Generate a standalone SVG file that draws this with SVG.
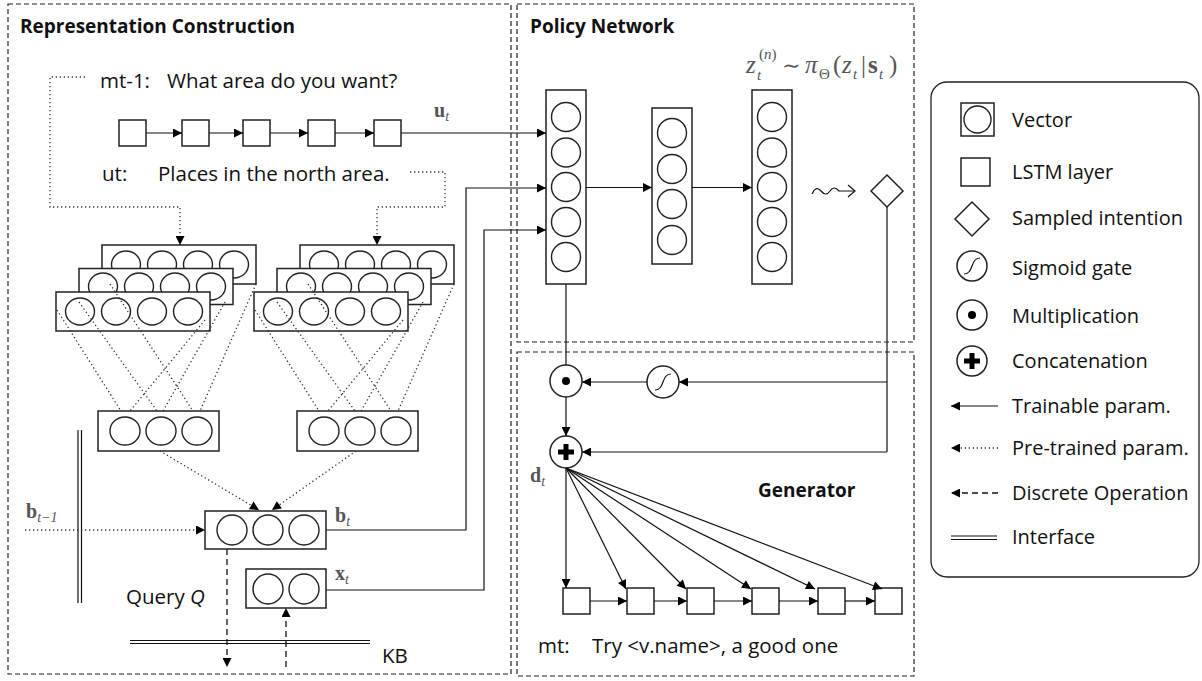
<svg xmlns="http://www.w3.org/2000/svg" width="1202" height="681" viewBox="0 0 1202 681">
<style>
.panel{fill:none;stroke:#222;stroke-width:1.2;stroke-dasharray:5 3}
.box{fill:#fff;stroke:#222;stroke-width:1.5}
.cir{fill:none;stroke:#222;stroke-width:1.4}
.ln{fill:none;stroke:#111;stroke-width:1.2}
.dot{fill:none;stroke:#333;stroke-width:1.3;stroke-dasharray:1.3 2.7}
.dash{fill:none;stroke:#111;stroke-width:1.3;stroke-dasharray:6 4}
.t{font-family:"Open Sans","Liberation Sans",sans-serif;font-size:20.5px;fill:#111}
.lg{font-family:"Open Sans","Liberation Sans",sans-serif;font-size:20px;fill:#111}
.tb{font-family:"Open Sans","Liberation Sans",sans-serif;font-size:19px;font-weight:700;fill:#111}
.m{font-family:"Liberation Serif","DejaVu Serif",serif;fill:#555}
</style>
<defs>
<marker id="ah" viewBox="0 0 10 10" refX="10" refY="5" markerWidth="11" markerHeight="9" markerUnits="userSpaceOnUse" orient="auto"><path d="M0,0 L10,5 L0,10 z" fill="#000"/></marker>
<g id="c4"><ellipse cx="24" cy="19.5" rx="14.5" ry="13.5" class="cir"/><ellipse cx="60" cy="19.5" rx="14.5" ry="13.5" class="cir"/><ellipse cx="96" cy="19.5" rx="14.5" ry="13.5" class="cir"/><ellipse cx="132" cy="19.5" rx="14.5" ry="13.5" class="cir"/></g>
<g id="stack"><rect x="46" y="0" width="154" height="39" class="box"/><use href="#c4" x="46" y="0"/><rect x="23" y="23.5" width="154" height="36" class="box"/><use href="#c4" x="23" y="22"/><rect x="0" y="47" width="154" height="39" class="box"/><use href="#c4" x="0" y="47"/></g>
<g id="c3"><rect x="0" y="0" width="121" height="40" class="box"/><ellipse cx="27" cy="20" rx="15" ry="14" class="cir"/><ellipse cx="63" cy="20" rx="15" ry="14" class="cir"/><ellipse cx="99" cy="20" rx="15" ry="14" class="cir"/></g>
<g id="sq"><rect x="0" y="0" width="27" height="26" class="box"/></g>
</defs>

<g id="panels">
<rect x="8" y="4" width="503" height="670" class="panel"/>
<rect x="517" y="4" width="397" height="338" class="panel"/>
<rect x="517" y="352" width="397" height="324" class="panel"/>
<text x="20" y="33" class="tb">Representation Construction</text>
<text x="530" y="33" class="tb">Policy Network</text>
<text x="758" y="497" class="tb">Generator</text>
</g>

<g id="utterance-prev">
<text x="100" y="88" class="t">mt-1:</text>
<text x="167" y="88" class="t">What area do you want?</text>
</g>
<g id="utterance-cur">
<text x="102" y="181" class="t">ut:</text>
<text x="158" y="181" class="t">Places in the north area.</text>
</g>

<g id="lstm-top">
<use href="#sq" x="119" y="120"/><use href="#sq" x="182" y="120"/><use href="#sq" x="243" y="120"/><use href="#sq" x="308" y="120"/><use href="#sq" x="374" y="120"/>
</g>
<text x="434" y="117" class="m" font-size="20" font-weight="700" fill="#444">u<tspan font-size="14" dy="4" font-style="italic" font-weight="400">t</tspan></text>

<g id="cnn-left"><use href="#stack" x="56" y="245"/></g>
<g id="cnn-right"><use href="#stack" x="254" y="245"/></g>
<g id="pool-left"><use href="#c3" x="98" y="411"/></g>
<g id="pool-right"><use href="#c3" x="297" y="411"/></g>

<g id="belief">
<rect x="205" y="511" width="121" height="38" class="box"/>
<ellipse cx="232" cy="530" rx="15" ry="15" class="cir"/><ellipse cx="268" cy="530" rx="15" ry="15" class="cir"/><ellipse cx="304" cy="530" rx="15" ry="15" class="cir"/>
<text x="335" y="522" class="m" font-size="20" font-weight="700">b<tspan font-size="14" dy="4" font-style="italic" font-weight="400">t</tspan></text>
</g>
<g id="kbvec">
<rect x="246" y="569" width="80" height="39" class="box"/>
<ellipse cx="268" cy="589" rx="15" ry="15" class="cir"/><ellipse cx="304" cy="589" rx="15" ry="15" class="cir"/>
<text x="335" y="580" class="m" font-size="20" font-weight="700">x<tspan font-size="14" dy="4" font-style="italic" font-weight="400">t</tspan></text>
</g>
<text x="26" y="518" class="m" font-size="20" font-weight="700">b<tspan font-size="14" dy="4" font-style="italic" font-weight="400">t−1</tspan></text>
<g id="query"><text x="126" y="604" class="t">Query <tspan font-style="italic">Q</tspan></text></g>
<g id="kb"><path d="M130,640.5 H370 M130,643.5 H370" class="ln"/><text x="382" y="663" class="t">KB</text></g>
<g id="interface"><path d="M78,430 V603 M81.5,430 V603" class="ln"/></g>

<g id="policy-v1"><rect x="546" y="90" width="40" height="194" class="box"/>
<circle cx="566" cy="117" r="14.5" class="cir"/><circle cx="566" cy="152.5" r="14.5" class="cir"/><circle cx="566" cy="187" r="14.5" class="cir"/><circle cx="566" cy="222" r="14.5" class="cir"/><circle cx="566" cy="257" r="14.5" class="cir"/></g>
<g id="policy-v2"><rect x="652" y="108" width="40" height="156" class="box"/>
<circle cx="672" cy="133" r="14.5" class="cir"/><circle cx="672" cy="169" r="14.5" class="cir"/><circle cx="672" cy="204" r="14.5" class="cir"/><circle cx="672" cy="240" r="14.5" class="cir"/></g>
<g id="policy-v3"><rect x="752" y="90" width="40" height="194" class="box"/>
<circle cx="772" cy="117" r="14.5" class="cir"/><circle cx="772" cy="152.5" r="14.5" class="cir"/><circle cx="772" cy="187" r="14.5" class="cir"/><circle cx="772" cy="222" r="14.5" class="cir"/><circle cx="772" cy="257" r="14.5" class="cir"/></g>
<g id="formula" class="m" fill="#666" font-style="italic">
<text x="746" y="73" font-size="25">z</text>
<text x="759" y="59" font-size="15" font-style="normal">(<tspan font-style="italic">n</tspan>)</text>
<text x="757" y="80" font-size="15">t</text>
<text x="782" y="73" font-size="22" font-style="normal">∼</text>
<text x="805" y="73" font-size="25">π</text>
<text x="819" y="79" font-size="15" font-style="normal">Θ</text>
<text x="833" y="73" font-size="25" font-style="normal">(</text>
<text x="842" y="73" font-size="25">z</text>
<text x="853" y="79" font-size="15">t</text>
<text x="861" y="73" font-size="25" font-style="normal">|</text>
<text x="868" y="73" font-size="25" font-style="normal" font-weight="700">s</text>
<text x="879" y="79" font-size="15">t</text>
<text x="889" y="73" font-size="25" font-style="normal">)</text>
</g>
<g id="sample"><path d="M812,194 Q816,185 821,191 T830,191 T839,191 L854,191" class="ln" stroke-width="2"/><path d="M848,185 L855,191 L848,197" class="ln" stroke-width="1.8"/></g>
<g id="intention"><path d="M887,175 L903,191 L887,207 L871,191 Z" class="box"/></g>

<g id="mult"><circle cx="566" cy="381" r="16" class="box"/><circle cx="566" cy="381" r="4" fill="#000"/></g>
<g id="sigmoid"><circle cx="663" cy="382" r="16" class="box"/><path d="M655,390 C665,390 661,374 671,374" class="ln"/></g>
<g id="concat"><circle cx="566" cy="452" r="16" class="box"/><path d="M566,444 V460 M558,452 H574" stroke="#000" stroke-width="5"/></g>
<text x="530" y="482" class="m" font-size="20" font-weight="700">d<tspan font-size="14" dy="4" font-style="italic" font-weight="400">t</tspan></text>

<g id="lstm-gen">
<use href="#sq" x="563" y="588"/><use href="#sq" x="627" y="588"/><use href="#sq" x="687" y="588"/><use href="#sq" x="752" y="588"/><use href="#sq" x="818" y="588"/><use href="#sq" x="875" y="588"/>
</g>
<g id="response"><text x="538" y="653" class="t">mt:</text><text x="592" y="653" class="t">Try &lt;v.name&gt;, a good one</text></g>

<g id="connectors">
<path d="M146,133 H182" class="ln" marker-end="url(#ah)"/>
<path d="M209,133 H243" class="ln" marker-end="url(#ah)"/>
<path d="M270,133 H308" class="ln" marker-end="url(#ah)"/>
<path d="M335,133 H374" class="ln" marker-end="url(#ah)"/>
<path d="M401,133 H546" class="ln" marker-end="url(#ah)"/>
<path d="M85,77 H50 V207 H180 V245" class="dot" marker-end="url(#ah)"/>
<path d="M410,172 H445 V207 H377 V245" class="dot" marker-end="url(#ah)"/>
<path d="M57,310 L121,411 M79,302 L157,411 M110,284 L193,411 M205,320 L130,411 M225,302 L163,411 M256,284 L200,411" class="dot"/>
<path d="M255,310 L319,411 M277,302 L355,411 M308,284 L391,411 M403,320 L328,411 M423,302 L361,411 M454,284 L398,411" class="dot"/>
<path d="M160,451 L259,510" class="dot" marker-end="url(#ah)"/>
<path d="M356,451 L272,510" class="dot" marker-end="url(#ah)"/>
<path d="M25,530 H205" class="dot" marker-end="url(#ah)"/>
<path d="M326,530 H466 V188 H546" class="ln" marker-end="url(#ah)"/>
<path d="M326,590 H484 V230 H546" class="ln" marker-end="url(#ah)"/>
<path d="M227,549 V667" class="dash" marker-end="url(#ah)"/>
<path d="M286,667 V608" class="dash" marker-end="url(#ah)"/>
<path d="M586,187.5 H652" class="ln" marker-end="url(#ah)"/>
<path d="M692,187.5 H752" class="ln" marker-end="url(#ah)"/>
<path d="M887,207 V452" class="ln"/>
<path d="M887,382 H679" class="ln" marker-end="url(#ah)"/>
<path d="M647,382 H582" class="ln" marker-end="url(#ah)"/>
<path d="M887,452 H582" class="ln" marker-end="url(#ah)"/>
<path d="M566,284 V365" class="ln"/>
<path d="M566,397 V436" class="ln" marker-end="url(#ah)"/>
<path d="M566,468 V588" class="ln" marker-end="url(#ah)"/>
<path d="M566,468 L626,589" class="ln" marker-end="url(#ah)"/>
<path d="M566,468 L686,589" class="ln" marker-end="url(#ah)"/>
<path d="M566,468 L751,589" class="ln" marker-end="url(#ah)"/>
<path d="M566,468 L815,589" class="ln" marker-end="url(#ah)"/>
<path d="M566,468 L882,589" class="ln" marker-end="url(#ah)"/>
<path d="M590,601 H627" class="ln" marker-end="url(#ah)"/>
<path d="M654,601 H687" class="ln" marker-end="url(#ah)"/>
<path d="M714,601 H752" class="ln" marker-end="url(#ah)"/>
<path d="M779,601 H818" class="ln" marker-end="url(#ah)"/>
<path d="M845,601 H875" class="ln" marker-end="url(#ah)"/>
</g>

<g id="legend">
<rect x="931" y="82" width="268" height="495" rx="16" fill="none" stroke="#222" stroke-width="1.3"/>
<rect x="961" y="103" width="33" height="33" class="box"/><circle cx="977.5" cy="119.5" r="13.5" class="cir"/>
<text x="1012" y="127" class="lg">Vector</text>
<rect x="961" y="158" width="29" height="28" class="box"/>
<text x="1012" y="179" class="lg">LSTM layer</text>
<path d="M972,202 L989,219 L972,236 L955,219 Z" class="box"/>
<text x="1012" y="225" class="lg">Sampled intention</text>
<circle cx="972" cy="266" r="15" class="box"/><path d="M964,274 C974,274 970,258 980,258" class="ln"/>
<text x="1012" y="275" class="lg">Sigmoid gate</text>
<circle cx="972" cy="315" r="15" class="box"/><circle cx="972" cy="315" r="4" fill="#000"/>
<text x="1012" y="323" class="lg">Multiplication</text>
<circle cx="972" cy="361" r="15" class="box"/><path d="M972,353 V369 M964,361 H980" stroke="#000" stroke-width="5"/>
<text x="1012" y="368" class="lg">Concatenation</text>
<path d="M998,406 H951" class="ln" marker-end="url(#ah)"/>
<text x="1012" y="413" class="lg">Trainable param.</text>
<path d="M998,448 H951" class="dot" marker-end="url(#ah)"/>
<text x="1012" y="455" class="lg">Pre-trained param.</text>
<path d="M998,493 H951" class="dash" marker-end="url(#ah)"/>
<text x="1012" y="500" class="lg">Discrete Operation</text>
<path d="M951,536 H997 M951,539.5 H997" class="ln"/>
<text x="1012" y="544" class="lg">Interface</text>
</g>
</svg>
